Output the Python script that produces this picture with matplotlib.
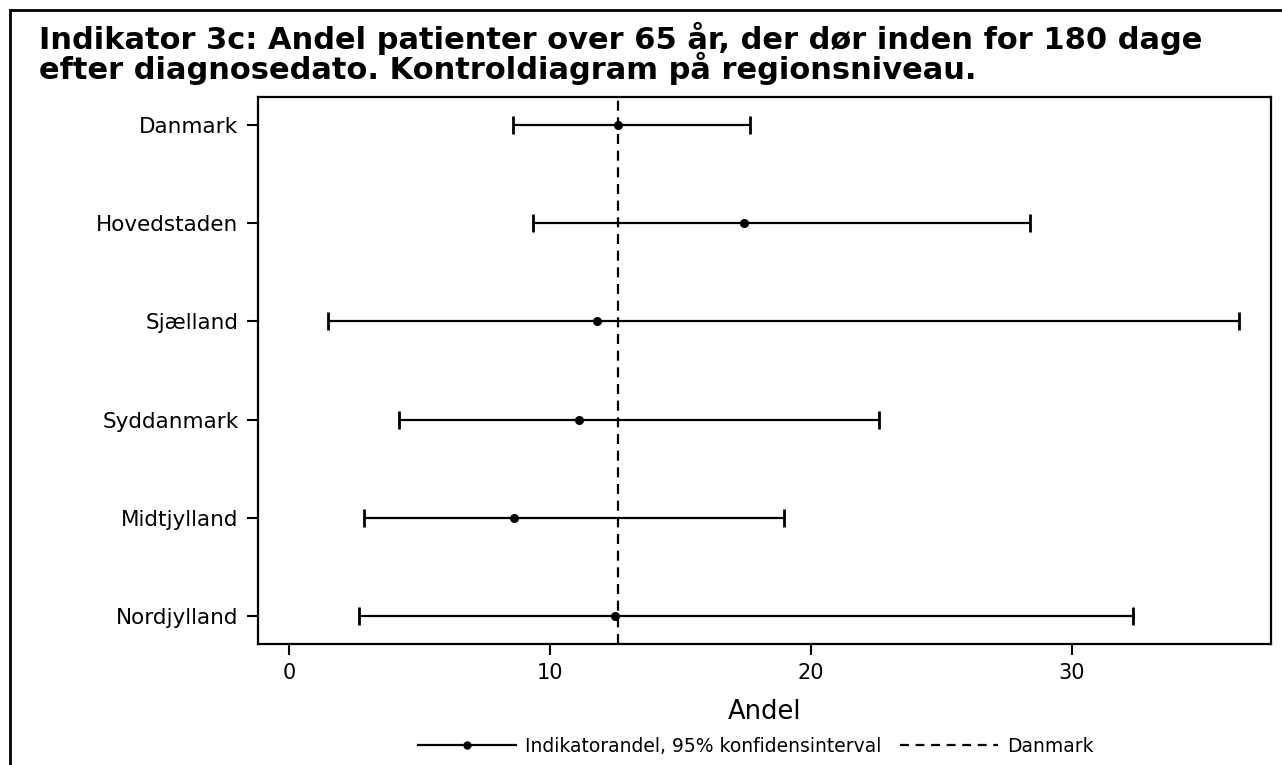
import matplotlib
matplotlib.use("Agg")
import matplotlib.pyplot as plt
from matplotlib.lines import Line2D
from matplotlib.patches import Rectangle

# Data (andel i %)
regions = ["Danmark", "Hovedstaden", "Sjælland", "Syddanmark", "Midtjylland", "Nordjylland"]
andel = [12.60, 17.42, 11.78, 11.09, 8.61, 12.50]
lower = [8.57, 9.36, 1.46, 4.20, 2.86, 2.66]
upper = [17.66, 28.39, 36.43, 22.60, 18.96, 32.36]
danmark_ref = 12.60
xticks = [0, 10, 20, 30]

title = ("Indikator 3c: Andel patienter over 65 år, der dør inden for 180 dage\n"
         "efter diagnosedato. Kontroldiagram på regionsniveau.")

plt.rcParams['font.family'] = ['DejaVu Sans']

fig = plt.figure(figsize=(12.82, 7.65), dpi=100)
ax = fig.add_axes([0.2012, 0.1582, 0.7902, 0.7150])

ypos = list(range(len(regions)))
err_lo = [a - l for a, l in zip(andel, lower)]
err_hi = [u - a for a, u in zip(andel, upper)]

ax.errorbar(andel, ypos, xerr=[err_lo, err_hi], fmt='o', color='black',
            ms=5.5, elinewidth=1.6, capsize=6.5, capthick=2, zorder=3)
ax.axvline(danmark_ref, color='black', lw=1.6, ls=(0, (4.5, 3)), zorder=2)

ax.set_yticks(ypos)
ax.set_yticklabels(regions, fontsize=15.5)
ax.set_ylim(len(regions) - 1 + 0.29, -0.29)
ax.set_xlim(-1.21, 37.65)
ax.set_xticks(xticks)
ax.set_xticklabels([str(t) for t in xticks], fontsize=15)
ax.tick_params(axis='both', length=8, width=1.5, direction='out', pad=6)
ax.set_xlabel("Andel", fontsize=18.5, labelpad=11)
for sp in ax.spines.values():
    sp.set_linewidth(1.6)

fig.text(39 / 1282, 1 - 22 / 765, title, fontsize=22, fontweight='bold',
         ha='left', va='top', linespacing=0.88)

handles = [
    Line2D([], [], color='black', lw=1.6, marker='o', ms=5),
    Line2D([], [], color='black', lw=1.6, ls=(0, (4, 3))),
]
fig.legend(handles, ["Indikatorandel, 95% konfidensinterval", "Danmark"],
           loc='center', bbox_to_anchor=(756 / 1282, 1 - 746 / 765),
           ncol=2, frameon=False, fontsize=13.5, handlelength=5.2,
           columnspacing=1.0, handletextpad=0.5)

# outer frame around the figure (only left/top visible in the reference)
fig.patches.append(Rectangle((10 / 1282, -0.05), 1.2, 1.05 - 10 / 765,
                             transform=fig.transFigure, fill=False,
                             edgecolor='black', lw=2))

fig.savefig("out.png", dpi=100)
